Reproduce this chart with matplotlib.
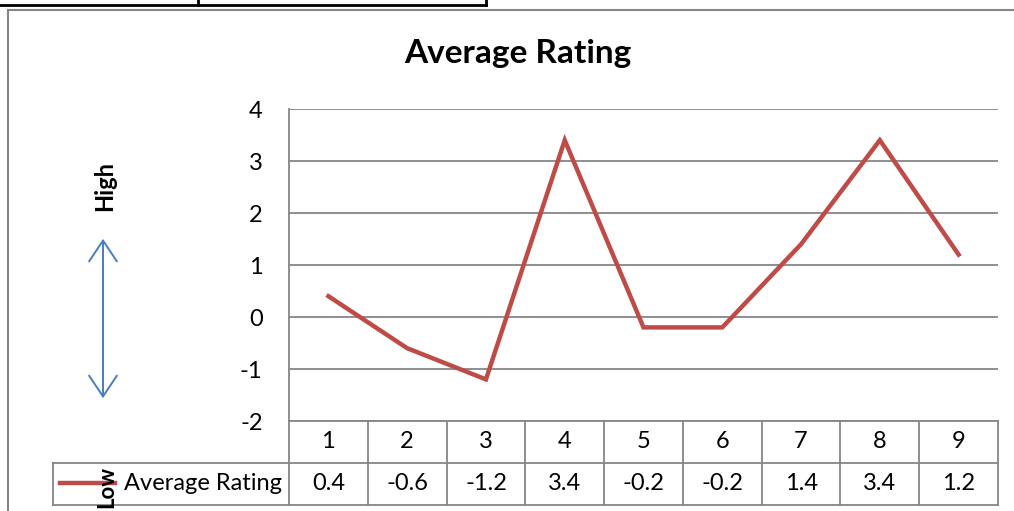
import matplotlib.pyplot as plt
from matplotlib.lines import Line2D
from matplotlib.patches import Rectangle, FancyArrowPatch
import matplotlib.transforms as mtransforms

# chart data
categories = [1, 2, 3, 4, 5, 6, 7, 8, 9]
avg_rating = [0.4, -0.6, -1.2, 3.4, -0.2, -0.2, 1.4, 3.4, 1.2]
value_labels = ["0.4", "-0.6", "-1.2", "3.4", "-0.2", "-0.2", "1.4", "3.4", "1.2"]
y_ticks = [-2, -1, 0, 1, 2, 3, 4]
series_name = "Average Rating"

W, H = 1014, 511
RED = "#BE4B48"
GRID = "#868686"
BLUE = "#4A7EBB"
FS = 17
plt.rcParams["font.family"] = ["Lato", "DejaVu Sans"]


def fx(x):
    return x / W


def fy(y):
    return 1 - y / H


fig = plt.figure(figsize=(W / 100, H / 100), dpi=100)
fig.patch.set_facecolor("white")

# plot area in pixels
left, right, top, bottom = 289, 998, 109, 421
ax = fig.add_axes([fx(left), fy(bottom), (right - left) / W, (bottom - top) / H])
ax.plot(categories, avg_rating, color=RED, lw=3.2, solid_joinstyle="miter", zorder=3)
ax.set_xlim(0.5, len(categories) + 0.5)
ax.set_ylim(min(y_ticks), max(y_ticks))
ax.set_yticks(y_ticks)
ax.set_yticklabels([str(t) for t in y_ticks], fontsize=FS)
ax.tick_params(axis="y", length=0, pad=19)
ax.set_xticks([])
ax.grid(axis="y", color=GRID, lw=1.3)
for side in ["top", "right", "bottom"]:
    ax.spines[side].set_visible(False)
ax.spines["left"].set_color(GRID)
ax.spines["left"].set_linewidth(1.3)
ax.set_facecolor("none")

# data table below the plot area
tr = mtransforms.blended_transform_factory(ax.transData, fig.transFigure)
row1_top, row1_bot, row2_bot = 421, 463, 505
legend_left = 53
edges = [c - 0.5 for c in categories] + [categories[-1] + 0.5]
for e in edges:
    fig.add_artist(Line2D([e, e], [fy(row1_top), fy(row2_bot)], transform=tr, color=GRID, lw=1.3))
fig.add_artist(Line2D([edges[0], edges[-1]], [fy(row1_top)] * 2, transform=tr, color=GRID, lw=1.3))
fig.add_artist(Line2D([fx(legend_left), fx(right)], [fy(row1_bot)] * 2,
                      transform=fig.transFigure, color=GRID, lw=1.3))
fig.add_artist(Line2D([fx(legend_left), fx(right)], [fy(row2_bot)] * 2,
                      transform=fig.transFigure, color=GRID, lw=1.3))
fig.add_artist(Line2D([fx(legend_left)] * 2, [fy(row1_bot), fy(row2_bot)],
                      transform=fig.transFigure, color=GRID, lw=1.3))
for c, lab in zip(categories, value_labels):
    fig.text(c, fy((row1_top + row1_bot) / 2), str(c), transform=tr,
             ha="center", va="center", fontsize=FS)
    fig.text(c, fy((row1_bot + row2_bot) / 2), lab, transform=tr,
             ha="center", va="center", fontsize=FS)

# legend key inside table
fig.add_artist(Line2D([fx(60), fx(115)], [fy(483)] * 2, transform=fig.transFigure,
                      color=RED, lw=3.2))
fig.text(fx(282), fy(484), series_name, ha="right", va="center", fontsize=FS)

# title
fig.text(fx(518), fy(53), "Average Rating", ha="center", va="center",
         fontsize=24, fontweight="bold")

# High / Low annotation with arrow
fig.text(fx(105), fy(186), "High", rotation=90, ha="center", va="center",
         fontsize=FS, fontweight="bold")
fig.text(fx(107), fy(487), "Low", rotation=90, ha="center", va="center",
         fontsize=16, fontweight="bold", zorder=5)
fig.add_artist(FancyArrowPatch(
    (fx(103), fy(236)), (fx(103), fy(401)), transform=fig.transFigure,
    arrowstyle="<->,head_length=6,head_width=4", color=BLUE, lw=1.4,
    mutation_scale=2.5))

# chart border and document table fragment
fig.add_artist(Rectangle((fx(8), fy(530)), fx(1030), fy(10) - fy(530),
                         transform=fig.transFigure, fill=False, ec=GRID, lw=1.5))
fig.add_artist(Line2D([0, fx(486)], [fy(5)] * 2, transform=fig.transFigure, color="black", lw=2))
for xv in [198, 486]:
    fig.add_artist(Line2D([fx(xv)] * 2, [fy(5), 1], transform=fig.transFigure, color="black", lw=2))

fig.savefig("out.png", dpi=100)
